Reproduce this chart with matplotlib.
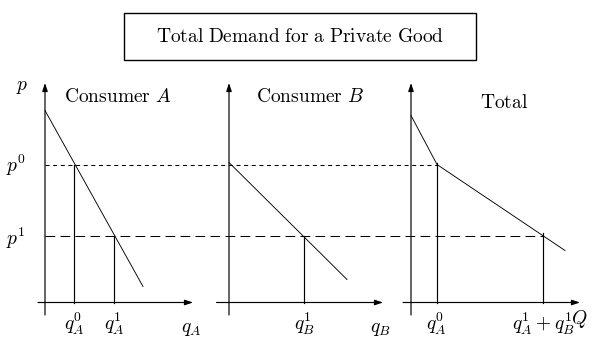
import matplotlib
matplotlib.use("Agg")
import matplotlib.pyplot as plt
from matplotlib.patches import Rectangle

plt.rcParams['mathtext.fontset'] = 'cm'
plt.rcParams['lines.scale_dashes'] = False

# ---- data (economic units) ----
p0 = 13.8
p1 = 6.7
# Consumer A demand
qA_line = [0.0, 9.8]
pA_line = [19.2, 1.6]
qA0 = 2.9
qA1 = 6.9
# Consumer B demand
qB_line = [0.0, 11.8]
pB_line = [14.0, 2.3]
qB1 = 7.5
# Total demand (kinked)
qT_line = [0.0, 2.6, 15.4]
pT_line = [18.7, 13.8, 5.2]
qT0 = 2.55
qT1 = 13.2

title = r'$\mathrm{Total\ Demand\ for\ a\ Private\ Good}$'
panel_titles = [r'$\mathrm{Consumer}\ A$', r'$\mathrm{Consumer}\ B$', r'$\mathrm{Total}$']

# ---- layout ----
W, H = 600, 350
fig = plt.figure(figsize=(6, 3.5), dpi=100)
ax = fig.add_axes([0, 0, 1, 1])
ax.set_xlim(-4.5, 55.5)
ax.set_ylim(-4.75, 30.25)
ax.axis('off')

offA, offB, offT = 0.0, 18.4, 36.6
fs = 14
k = 'black'

def arrow(x0, y0, x1, y1):
    ax.annotate('', xy=(x1, y1), xytext=(x0, y0),
                arrowprops=dict(arrowstyle='-|>,head_length=0.6,head_width=0.2',
                                lw=0.85, color=k, mutation_scale=8,
                                shrinkA=0, shrinkB=0))

# axes
for off, xl, xr in [(offA, -0.7, 14.8), (offB, -1.25, 15.4), (offT, -0.8, 16.9)]:
    arrow(off, -1.25, off, 21.95)
    arrow(off + xl, 0, off + xr, 0)

# dashed price lines
ax.plot([offA, offT + qT0], [p0, p0], color=k, lw=0.75, dashes=(2.9, 2.6))
ax.plot([offA, offT + qT1], [p1, p1], color=k, lw=0.75, dashes=(7.0, 3.8))

# demand curves
ax.plot([offA + q for q in qA_line], pA_line, color=k, lw=0.65)
ax.plot([offB + q for q in qB_line], pB_line, color=k, lw=0.65)
ax.plot([offT + q for q in qT_line], pT_line, color=k, lw=0.65)

# drop lines
ax.plot([offA + qA0] * 2, [0, p0], color=k, lw=0.85)
ax.plot([offA + qA1] * 2, [0, p1], color=k, lw=0.85)
ax.plot([offB + qB1] * 2, [0, p1], color=k, lw=0.85)
ax.plot([offT + qT0] * 2, [0, p0 + 0.2], color=k, lw=0.85)
ax.plot([offT + qT1] * 2, [0, p1 + 0.3], color=k, lw=0.85)

# labels
ax.text(-2.3, 21.55, r'$p$', fontsize=fs, ha='center', va='center')
ax.text(-1.9, p0 - 0.05, r'$p^0$', fontsize=fs, ha='right', va='center')
ax.text(-1.9, p1 - 0.3, r'$p^1$', fontsize=fs, ha='right', va='center')

ax.text(offA + 7.25, 20.55, panel_titles[0], fontsize=fs, ha='center', va='center')
ax.text(offB + 8.1, 20.55, panel_titles[1], fontsize=fs, ha='center', va='center')
ax.text(offT + 9.35, 20.05, panel_titles[2], fontsize=fs, ha='center', va='center')

ly = -2.15
ax.text(offA + qA0, ly, r'$q_A^0$', fontsize=fs, ha='center', va='center')
ax.text(offA + qA1, ly, r'$q_A^1$', fontsize=fs, ha='center', va='center')
ax.text(offA + 14.6, -2.55, r'$q_A$', fontsize=fs, ha='center', va='center')
ax.text(offB + qB1, ly, r'$q_B^1$', fontsize=fs, ha='center', va='center')
ax.text(offB + 15.1, -2.55, r'$q_B$', fontsize=fs, ha='center', va='center')
ax.text(offT + qT0, ly, r'$q_A^0$', fontsize=fs, ha='center', va='center')
ax.text(offT + qT1, ly, r'$q_A^1+q_B^1$', fontsize=fs, ha='center', va='center')
ax.text(offT + 16.8, -1.65, r'$Q$', fontsize=fs, ha='center', va='center')

# title box
fig.add_artist(Rectangle((124 / W, 1 - 60 / H), (476 - 124) / W, (60 - 12.7) / H,
                         transform=fig.transFigure, fill=False, lw=1.0, ec=k))
fig.text(300 / W, 1 - 36 / H, title, fontsize=fs, ha='center', va='center')

fig.savefig('out.png', dpi=100, facecolor='white')
